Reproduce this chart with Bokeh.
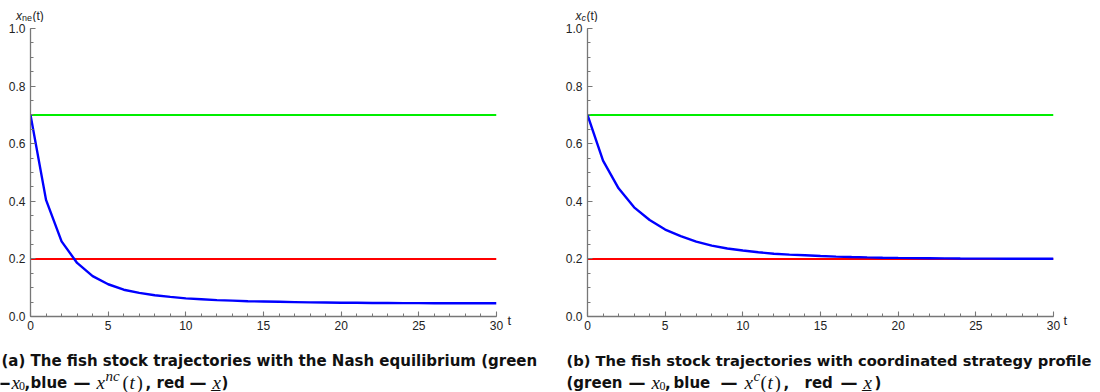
from bokeh.plotting import figure
from bokeh.models import Label, Range1d, FixedTicker
from bokeh.layouts import row, column
from bokeh.embed import file_html
from bokeh.resources import INLINE

# ---------------- data ----------------
t = list(range(31))
x_ne = [0.700, 0.405, 0.261, 0.186, 0.140, 0.112, 0.093, 0.082, 0.074, 0.068,
        0.063, 0.060, 0.057, 0.055, 0.053, 0.052, 0.051, 0.050, 0.049, 0.0485,
        0.048, 0.0475, 0.047, 0.0468, 0.0466, 0.0464, 0.0462, 0.046, 0.046, 0.046, 0.046]
x_c = [0.700, 0.541, 0.445, 0.379, 0.335, 0.302, 0.279, 0.260, 0.246, 0.236,
       0.229, 0.223, 0.218, 0.215, 0.2125, 0.210, 0.208, 0.2065, 0.2052, 0.2042,
       0.2034, 0.2027, 0.2022, 0.2018, 0.2014, 0.2011, 0.2009, 0.2007, 0.2005, 0.2004, 0.2003]
x0_level = 0.7
x_lower = 0.2
x_ticks = [0, 5, 10, 15, 20, 25, 30]
x_tick_labels = ["0", "5", "10", "15", "20", "25", "30"]
x_minor = list(range(31))
y_ticks = [0.0, 0.2, 0.4, 0.6, 0.8, 1.0]
y_tick_labels = ["0.0", "0.2", "0.4", "0.6", "0.8", "1.0"]
y_minor = [i / 20 for i in range(21)]

GREEN = "#00ee00"
BLUE = "#0000ff"
RED = "#ff0000"
AXIS = "#777777"

SANS_B = dict(text_font="DejaVu Sans", text_font_style="bold", text_font_size="15px")
SANS_B2 = dict(text_font="DejaVu Sans", text_font_style="bold", text_font_size="14.7px")
DASH = dict(text_font="DejaVu Sans", text_font_style="bold", text_font_size="17px")
MATH = dict(text_font="Liberation Serif", text_font_style="italic", text_font_size="19px")
MATH_R = dict(text_font="Liberation Serif", text_font_style="normal", text_font_size="19px")
MATH_S = dict(text_font="Liberation Serif", text_font_style="italic", text_font_size="15px")
MATH_SR = dict(text_font="Liberation Serif", text_font_style="normal", text_font_size="12px")
AX = dict(text_font="Liberation Sans", text_font_size="12px")
AX_T = dict(text_font="Liberation Sans", text_font_size="13px")
AX_I = dict(text_font="Liberation Sans", text_font_style="italic", text_font_size="12px")
AX_S = dict(text_font="Liberation Sans", text_font_size="9px")
AX_SI = dict(text_font="Liberation Sans", text_font_style="italic", text_font_size="9px")

TOP_H = 22          # strip holding the y-axis label
PLOT_H = 316        # plot figure height
CAP_H = 392 - TOP_H - PLOT_H
BORDER_TOP = 6
FRAME_H = 288


def no_align(f):
    try:
        f.frame_align = False
    except Exception:
        pass


def text_fig(w, h, align=True):
    f = figure(width=w, height=h, x_range=Range1d(0, w), y_range=Range1d(h, 0),
               min_border=0, toolbar_location=None, output_backend="svg",
               x_axis_type=None, y_axis_type=None, title=None)
    f.outline_line_color = None
    f.background_fill_color = "white"
    f.border_fill_color = "white"
    if not align:
        no_align(f)
    return f


def put(f, x, y, text, style, color="#111111"):
    f.add_layout(Label(x=x, y=y, text=text, text_baseline="alphabetic",
                       text_align="left", text_color=color, **style))


def make_plot(y, width, border_left):
    p = figure(width=width, height=PLOT_H, x_range=Range1d(0, 30), y_range=Range1d(0, 1),
               min_border_left=border_left, min_border_right=width - border_left - 466,
               min_border_top=BORDER_TOP, min_border_bottom=PLOT_H - BORDER_TOP - FRAME_H,
               toolbar_location=None, output_backend="svg", title=None)
    no_align(p)
    p.outline_line_color = None
    p.grid.visible = False
    p.background_fill_color = "white"
    p.border_fill_color = "white"
    p.xaxis.ticker = FixedTicker(ticks=x_ticks, minor_ticks=x_minor)
    p.yaxis.ticker = FixedTicker(ticks=y_ticks, minor_ticks=y_minor)
    p.xaxis.major_label_overrides = dict(zip(x_ticks, x_tick_labels))
    p.yaxis.major_label_overrides = dict(zip(y_ticks, y_tick_labels))
    for ax in (p.xaxis, p.yaxis):
        ax.axis_line_color = AXIS
        ax.axis_line_width = 1.3
        ax.major_tick_line_color = AXIS
        ax.minor_tick_line_color = AXIS
        ax.major_tick_line_width = 1.1
        ax.minor_tick_line_width = 1.0
        ax.major_tick_in = 5
        ax.major_tick_out = 0
        ax.minor_tick_in = 3
        ax.minor_tick_out = 0
        ax.major_label_text_font = "Liberation Sans"
        ax.major_label_text_font_size = "12px"
        ax.major_label_text_color = "#222222"
        ax.major_label_standoff = 5
    p.xaxis.major_label_standoff = 4

    p.line([t[0], t[-1]], [x0_level, x0_level], line_color=GREEN, line_width=2)
    p.line([t[0], t[-1]], [x_lower, x_lower], line_color=RED, line_width=2)
    p.line(t, y, line_color=BLUE, line_width=2.4)
    return p


# ---------------- panel (a) ----------------
pa = make_plot(x_ne, 504, 30)
top_a = text_fig(550, TOP_H)
put(top_a, 15.5, 15.5, "x", AX_I, "#222222")
put(top_a, 21.5, 17.5, "ne", AX_S, "#222222")
put(top_a, 32, 15.5, "(t)", AX, "#222222")
side_a = text_fig(46, PLOT_H, align=False)
put(side_a, 3, 298, "t", AX_T, "#222222")

cap_a = text_fig(550, CAP_H)
L1, L2 = 22, 44
put(cap_a, 1, L1, "(a) The fish stock trajectories with the Nash equilibrium (green", SANS_B)
put(cap_a, -7, L2, "\u2014", DASH)
put(cap_a, 11, L2, "x", MATH)
put(cap_a, 18.5, L2 + 3, "0", MATH_SR)
put(cap_a, 24, L2, ",", SANS_B)
put(cap_a, 30, L2, "blue", SANS_B)
put(cap_a, 73, L2, "\u2014", DASH)
put(cap_a, 96, L2, "x", MATH)
put(cap_a, 105, L2 - 7, "nc", MATH_S)
put(cap_a, 122, L2, "(", MATH_R)
put(cap_a, 129, L2, "t", MATH)
put(cap_a, 136, L2, ")", MATH_R)
put(cap_a, 145, L2, ",", SANS_B)
put(cap_a, 156, L2, "red", SANS_B)
put(cap_a, 189, L2, "\u2014", DASH)
put(cap_a, 212, L2, "x\u0332", MATH)
put(cap_a, 221, L2, ")", SANS_B)

# ---------------- panel (b) ----------------
pb = make_plot(x_c, 511, 37)
top_b = text_fig(550, TOP_H)
put(top_b, 25, 15.5, "x", AX_I, "#222222")
put(top_b, 31, 17.5, "c", AX_SI, "#222222")
put(top_b, 36, 15.5, "(t)", AX, "#222222")
side_b = text_fig(39, PLOT_H, align=False)
put(side_b, 2, 298, "t", AX_T, "#222222")

cap_b = text_fig(550, CAP_H)
put(cap_b, 16, L1, "(b) The fish stock trajectories with coordinated strategy profile", SANS_B2)
put(cap_b, 16, L2, "(green", SANS_B)
put(cap_b, 78, L2, "\u2014", DASH)
put(cap_b, 101, L2, "x", MATH)
put(cap_b, 109, L2 + 3, "0", MATH_SR)
put(cap_b, 114.5, L2, ",", SANS_B)
put(cap_b, 123, L2, "blue", SANS_B)
put(cap_b, 170, L2, "\u2014", DASH)
put(cap_b, 194, L2, "x", MATH)
put(cap_b, 203, L2 - 7, "c", MATH_S)
put(cap_b, 210, L2, "(", MATH_R)
put(cap_b, 217, L2, "t", MATH)
put(cap_b, 224, L2, ")", MATH_R)
put(cap_b, 233, L2, ",", SANS_B)
put(cap_b, 254, L2, "red", SANS_B)
put(cap_b, 290, L2, "\u2014", DASH)
put(cap_b, 313, L2, "x\u0332", MATH)
put(cap_b, 324, L2, ")", SANS_B)

panel_a = column(top_a, row(pa, side_a), cap_a)
panel_b = column(top_b, row(pb, side_b), cap_b)
layout = row(panel_a, panel_b)
open("out.html", "w").write(file_html(layout, INLINE))
